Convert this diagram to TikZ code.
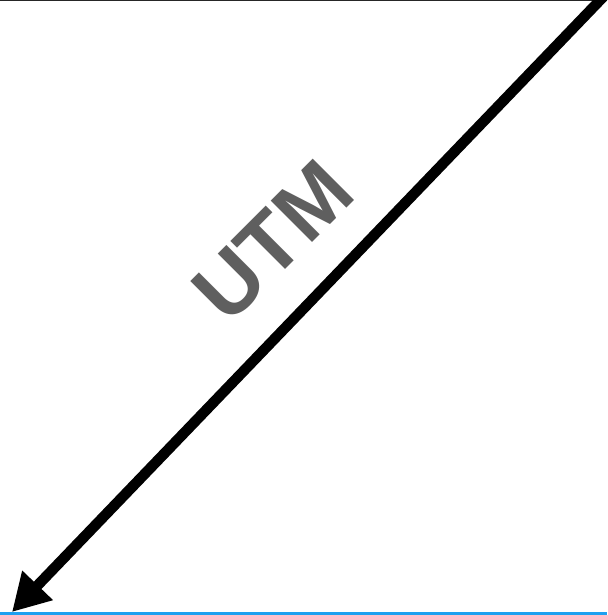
\documentclass[tikz,border=0pt]{standalone}
\usepackage{fontspec}
\setmainfont{Liberation Sans}
\usetikzlibrary{arrows.meta}
\definecolor{txtgray}{RGB}{95,95,95}
\definecolor{lineblue}{RGB}{30,160,240}
\tikzset{
  bigarrow/.style={line width=10.5pt, -{Triangle[length=37pt,width=40pt]}},
  label/.style={font=\bfseries\fontsize{85}{90}\selectfont, text=txtgray, inner sep=0pt},
}
\begin{document}
\begin{tikzpicture}[x=1pt,y=-1pt]
\useasboundingbox (0,0) rectangle (607,615);
\coordinate (tl) at (0,0.5);
\coordinate (tr) at (600,0.5);
\coordinate (bl) at (0,613);
\coordinate (br) at (607,613);
\coordinate (start) at (606,-6);
\coordinate (tip) at (12,612);
\draw[line width=1pt, black!85] (tl) -- (tr);
\draw[line width=3pt, lineblue] (bl) -- (br);
\begin{scope}
\clip (0,0) rectangle (607,615);
\draw[bigarrow] (start) -- (tip);
\end{scope}
\node[label, rotate=45] (utm) at (273,241) {UTM};
\end{tikzpicture}
\end{document}
